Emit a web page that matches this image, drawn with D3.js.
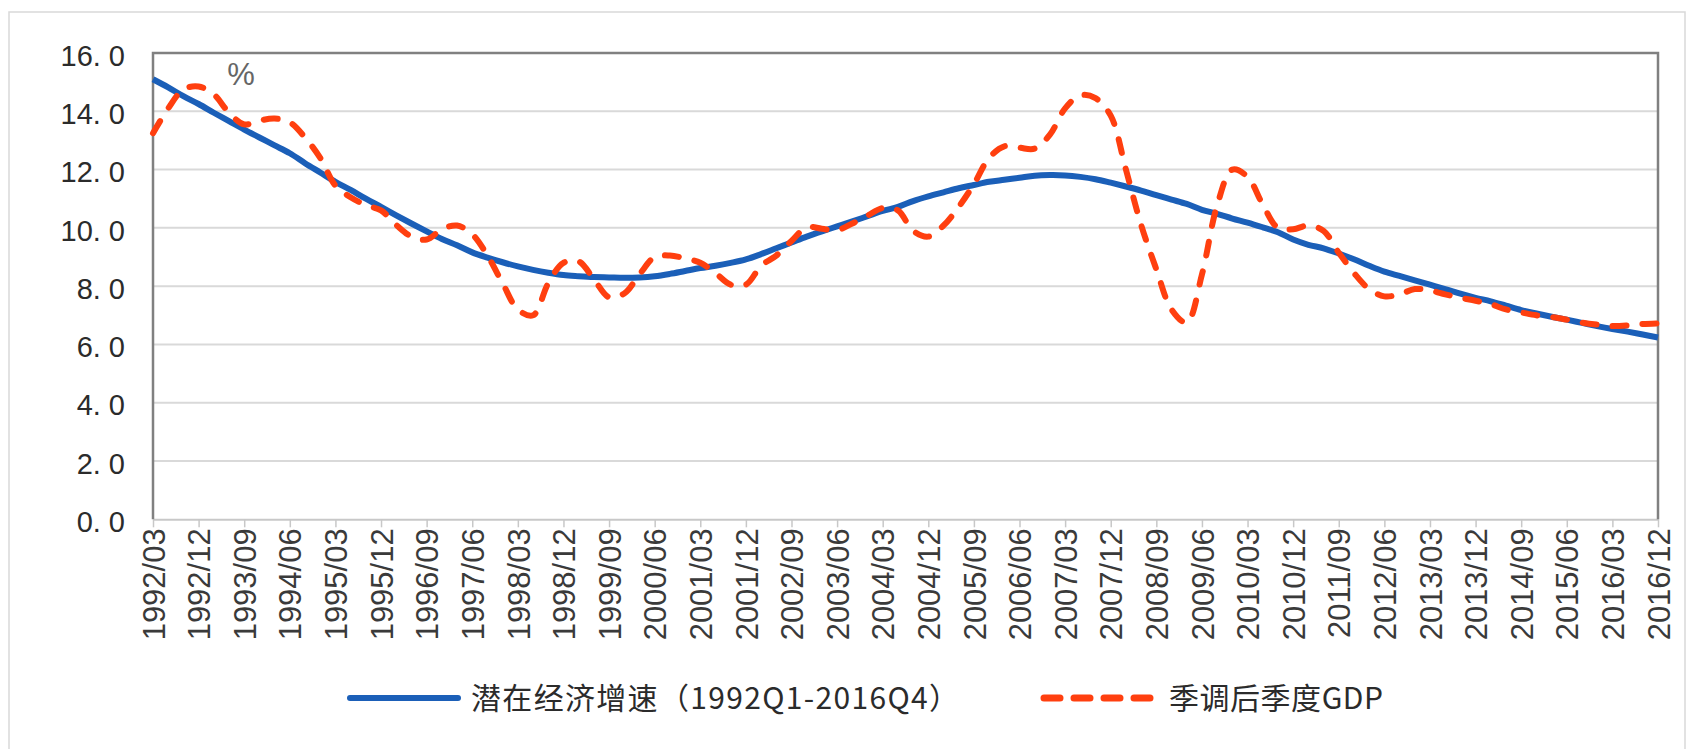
<!DOCTYPE html>
<html>
<head>
<meta charset="utf-8">
<script src="https://cdn.jsdelivr.net/npm/d3@7"></script>
<style>
  body { margin: 0; background: #fff; }
  svg { display: block; }
</style>
</head>
<body>
<div id="chart"></div>
<script>
// quarterly categories 1992/03 .. 2016/12
const quarters = [];
for (let yr = 1992; yr <= 2016; yr++) {
    ["03", "06", "09", "12"].forEach(m => quarters.push(`${yr}/${m}`));
}
const tickLabels = quarters.filter((d, i) => i % 3 === 0);
const yTicks = [0, 2, 4, 6, 8, 10, 12, 14, 16];

// 潜在经济增速
const potential = [
    15.10, 14.82, 14.52, 14.25, 13.95, 13.66, 13.37, 13.10, 12.83, 12.56,
    12.22, 11.90, 11.58, 11.30, 11.00, 10.72, 10.43, 10.15, 9.88, 9.62,
    9.40, 9.16, 8.98, 8.82, 8.68, 8.56, 8.46, 8.38, 8.34, 8.31,
    8.30, 8.29, 8.30, 8.34, 8.42, 8.52, 8.62, 8.70, 8.80, 8.92,
    9.10, 9.30, 9.50, 9.70, 9.88, 10.05, 10.22, 10.40, 10.58, 10.72,
    10.92, 11.08, 11.22, 11.36, 11.47, 11.58, 11.65, 11.72, 11.79, 11.81,
    11.80, 11.75, 11.67, 11.55, 11.42, 11.28, 11.12, 10.97, 10.82, 10.62,
    10.48, 10.32, 10.18, 10.02, 9.85, 9.60, 9.42, 9.30, 9.12, 8.92,
    8.70, 8.50, 8.35, 8.20, 8.05, 7.90, 7.74, 7.60, 7.48, 7.33,
    7.18, 7.06, 6.95, 6.85, 6.74, 6.63, 6.53, 6.44, 6.34, 6.24
];

// 季调后季度GDP
const gdp = [
    13.25, 14.10, 14.75, 14.85, 14.58, 13.95, 13.55, 13.68, 13.75, 13.62,
    13.10, 12.40, 11.45, 11.05, 10.78, 10.60, 10.10, 9.70, 9.60, 9.95,
    10.08, 9.78, 9.05, 8.10, 7.20, 7.00, 8.10, 8.80, 8.85, 8.24,
    7.62, 7.75, 8.40, 9.00, 9.05, 8.95, 8.80, 8.45, 8.05, 8.05,
    8.70, 9.05, 9.55, 10.02, 9.97, 9.92, 10.15, 10.42, 10.68, 10.60,
    9.90, 9.70, 10.08, 10.72, 11.50, 12.40, 12.80, 12.75, 12.72, 13.20,
    14.10, 14.55, 14.45, 13.85, 12.00, 10.10, 8.58, 7.20, 6.75, 8.40,
    10.77, 12.00, 11.75, 10.80, 10.00, 9.95, 10.08, 9.90, 9.15, 8.45,
    7.90, 7.65, 7.72, 7.90, 7.85, 7.72, 7.60, 7.50, 7.38, 7.20,
    7.10, 7.00, 6.94, 6.85, 6.75, 6.68, 6.63, 6.65, 6.70, 6.72
];

const seriesNames = ["潜在经济增速（1992Q1-2016Q4）", "季调后季度GDP"];

const svgWidth = 1690;
const svgHeight = 749;
const plot = { left: 153, right: 1658, top: 53, bottom: 519.3 };
const blue = "#1b5fb8";
const red = "#ff3f0f";

const svg = d3.select("#chart")
    .append("svg")
    .attr("width", svgWidth)
    .attr("height", svgHeight);

// outer frame
svg.append("rect")
    .attr("x", 9).attr("y", 12)
    .attr("width", 1676).attr("height", 760)
    .attr("fill", "none")
    .attr("stroke", "#d9d9d9")
    .attr("stroke-width", 1.5);

const x = d3.scalePoint()
    .domain(quarters)
    .range([plot.left, plot.right]);

const y = d3.scaleLinear()
    .domain([0, 16])
    .range([plot.bottom, plot.top]);

// gridlines
svg.append("g")
    .selectAll("line")
    .data(yTicks.filter(d => d > 0 && d < 16))
    .enter()
    .append("line")
    .attr("x1", plot.left).attr("x2", plot.right)
    .attr("y1", d => y(d)).attr("y2", d => y(d))
    .attr("stroke", "#d9d9d9")
    .attr("stroke-width", 2);

// y axis labels
const yAxis = d3.axisLeft(y)
    .tickValues(yTicks)
    .tickSize(0)
    .tickPadding(28)
    .tickFormat(d => d.toFixed(1).replace(".", ". "));

const yG = svg.append("g")
    .attr("transform", `translate(${plot.left},0)`)
    .call(yAxis);
yG.select(".domain").remove();
yG.selectAll("text")
    .attr("dy", "0.42em")
    .style("font-family", "'Liberation Sans', Arial, sans-serif")
    .style("font-size", "29px")
    .style("white-space", "pre")
    .attr("fill", "#2b2b2b");

// x axis
const xAxis = d3.axisBottom(x)
    .tickValues(tickLabels)
    .tickSize(8)
    .tickSizeOuter(0);

const xG = svg.append("g")
    .attr("transform", `translate(0,${plot.bottom})`)
    .call(xAxis);
xG.select(".domain").attr("stroke", "#c8c8c8").attr("stroke-width", 2);
xG.selectAll(".tick line").attr("stroke", "#c8c8c8").attr("stroke-width", 1.5);
xG.selectAll("text")
    .attr("transform", "rotate(-90)")
    .attr("x", -9)
    .attr("y", 0)
    .attr("dy", "0.36em")
    .style("text-anchor", "end")
    .style("font-family", "'Liberation Sans', Arial, sans-serif")
    .style("font-size", "31px")
    .attr("fill", "#3a3a3a");

// plot border (top, left, right)
svg.append("path")
    .attr("d", `M${plot.left},${plot.bottom}V${plot.top}H${plot.right}V${plot.bottom}`)
    .attr("fill", "none")
    .attr("stroke", "#808080")
    .attr("stroke-width", 2.5);

const line = d3.line()
    .x((d, i) => x(quarters[i]))
    .y(d => y(d))
    .curve(d3.curveCatmullRom);

svg.append("path")
    .datum(potential)
    .attr("d", line)
    .attr("fill", "none")
    .attr("stroke", blue)
    .attr("stroke-width", 6);

svg.append("path")
    .datum(gdp)
    .attr("d", line)
    .attr("fill", "none")
    .attr("stroke", red)
    .attr("stroke-width", 6)
    .attr("stroke-linecap", "round")
    .attr("stroke-dasharray", "14,16");

// unit
svg.append("text")
    .attr("x", 241).attr("y", 85)
    .attr("text-anchor", "middle")
    .style("font-family", "'Liberation Sans', Arial, sans-serif")
    .style("font-size", "31px")
    .attr("fill", "#666")
    .text("%");

// legend
const legendY = 698;
const legend = svg.append("g")
    .style("font-family", "'Noto Sans CJK SC', sans-serif")
    .style("font-size", "30px")
    .attr("fill", "#2b2b2b");

legend.append("line")
    .attr("x1", 350).attr("x2", 458)
    .attr("y1", legendY).attr("y2", legendY)
    .attr("stroke", blue)
    .attr("stroke-width", 6)
    .attr("stroke-linecap", "round");
legend.append("text")
    .attr("x", 471).attr("y", legendY)
    .attr("dy", "0.36em")
    .attr("textLength", 488)
    .text(seriesNames[0]);

legend.append("line")
    .attr("x1", 1044).attr("x2", 1158)
    .attr("y1", legendY).attr("y2", legendY)
    .attr("stroke", red)
    .attr("stroke-width", 7)
    .attr("stroke-linecap", "round")
    .attr("stroke-dasharray", "16,14");
legend.append("text")
    .attr("x", 1169).attr("y", legendY)
    .attr("dy", "0.36em")
    .attr("textLength", 214)
    .text(seriesNames[1]);
</script>
</body>
</html>
